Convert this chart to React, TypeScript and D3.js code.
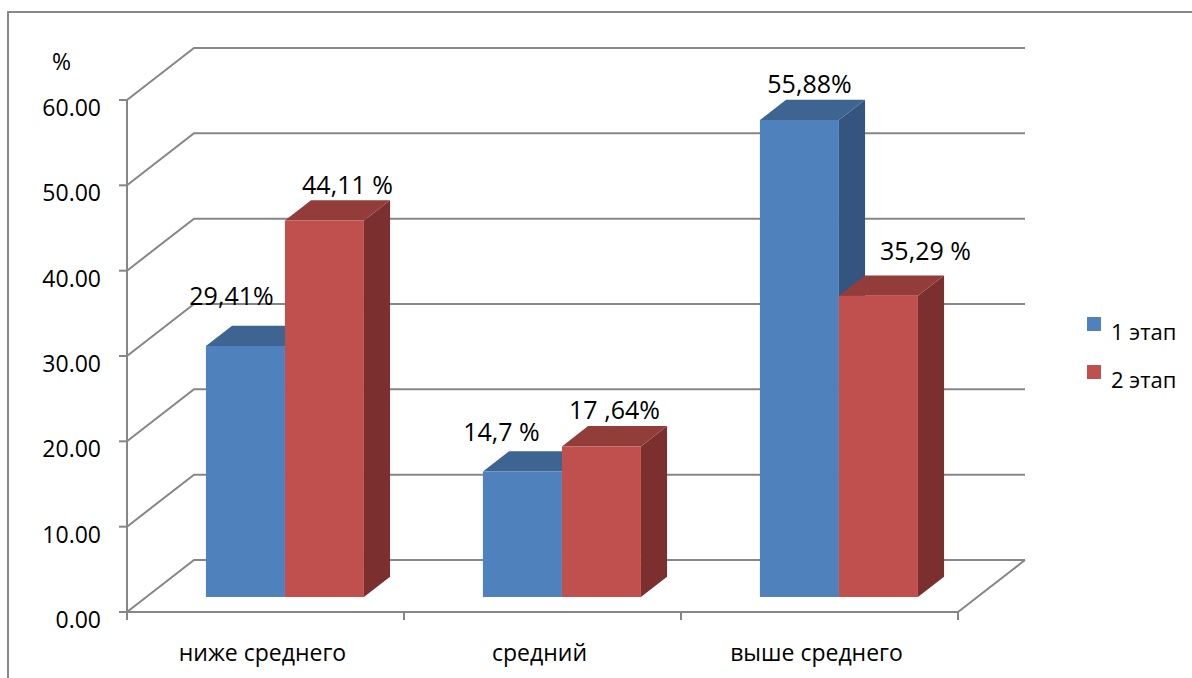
import React from "react";
import * as d3 from "d3";

const categories = ["ниже среднего", "средний", "выше среднего"];
const seriesNames = ["1 этап", "2 этап"];
const stage1 = [29.41, 14.7, 55.88];
const stage2 = [44.11, 17.64, 35.29];
const stage1Labels = ["29,41%", "14,7 %", "55,88%"];
const stage2Labels = ["44,11 %", "17 ,64%", "35,29 %"];
const yTicks = [0, 10, 20, 30, 40, 50, 60];

// layout constants (not data)
const W = 1192, H = 678;
const FRONT_L = 127, FRONT_R = 958, Y_BOT = 612, Y_TOP = 100;
const DDX = 67, DDY = -52;
const BAR_D0 = 0.29, BAR_D1 = 0.68;
const GROUP_W = 158;
const FONT = "'Open Sans', sans-serif";
const GRID = "#868686";
// per-label manual nudges, mirroring hand-placed labels in the original
const NUDGE1 = [[-27, -11], [-34, 0], [-3, 3]];
const NUDGE2 = [[10, 4], [0, 3], [34, -5]];

const COLORS = [
  { front: "#4F81BD", top: "#3E6592", side: "#34557F" },
  { front: "#C0504D", top: "#933D3B", side: "#7B302F" },
];

export default function App() {
  const x = d3.scaleBand<string>().domain(categories).range([FRONT_L, FRONT_R]).padding(0);
  const xi = d3.scaleBand<string>().domain(seriesNames).range([0, GROUP_W]).padding(0);
  const y = d3.scaleLinear().domain([0, 60]).range([Y_BOT, Y_TOP]);
  const bw = xi.bandwidth();
  const P = (px: number, py: number, d: number) => [px + DDX * d, py + DDY * d];
  const pts = (arr: number[][]) => arr.map((p) => p.join(",")).join(" ");

  const values = [stage1, stage2];
  const labels = [stage1Labels, stage2Labels];
  const nudges = [NUDGE1, NUDGE2];

  const bars: React.ReactNode[] = [];
  const texts: React.ReactNode[] = [];
  categories.forEach((c, ci) => {
    const cx = (x(c) as number) + x.bandwidth() / 2;
    seriesNames.forEach((s, si) => {
      const v = values[si][ci];
      const x0 = cx - GROUP_W / 2 + (xi(s) as number);
      const x1 = x0 + bw;
      const col = COLORS[si];
      const fbl = P(x0, y(0), BAR_D0), fbr = P(x1, y(0), BAR_D0);
      const ftl = P(x0, y(v), BAR_D0), ftr = P(x1, y(v), BAR_D0);
      const btl = P(x0, y(v), BAR_D1), btr = P(x1, y(v), BAR_D1), bbr = P(x1, y(0), BAR_D1);
      bars.push(
        <g key={c + s}>
          <polygon points={pts([fbr, ftr, btr, bbr])} fill={col.side} />
          <polygon points={pts([ftl, ftr, btr, btl])} fill={col.top} />
          <polygon points={pts([fbl, ftl, ftr, fbr])} fill={col.front} />
        </g>
      );
      const [nx, ny] = nudges[si][ci];
      const tx = (ftl[0] + btr[0]) / 2 + nx;
      const ty = btl[1] - 10 + ny;
      texts.push(
        <text key={"t" + c + s} x={tx} y={ty} textAnchor="middle" fontSize={25} fontFamily={FONT} fill="#000">
          {labels[si][ci]}
        </text>
      );
    });
  });

  return (
    <svg width={W} height={H} style={{ position: "absolute", left: 0, top: 0, background: "#fff" }}>
      <rect x={0} y={0} width={W} height={H} fill="#fff" />
      <path d={`M8,${H + 5} L8,12 L${W + 5},12`} fill="none" stroke="#888" strokeWidth={2} />
      {yTicks.map((t) => {
        const a = [FRONT_L, y(t)];
        const b = P(FRONT_L, y(t), 1);
        const e = P(FRONT_R, y(t), 1);
        return (
          <polyline key={"g" + t} points={pts([a, b, e])} fill="none" stroke={GRID} strokeWidth={2} />
        );
      })}
      <polyline
        points={pts([[FRONT_L, Y_BOT], [FRONT_R, Y_BOT], P(FRONT_R, Y_BOT, 1)])}
        fill="none"
        stroke={GRID}
        strokeWidth={2}
      />
      <line x1={FRONT_L} x2={FRONT_L} y1={y(60)} y2={Y_BOT} stroke={GRID} strokeWidth={2} />
      {yTicks.map((t) => (
        <g key={"yt" + t}>
          <line x1={FRONT_L - 8} x2={FRONT_L} y1={y(t)} y2={y(t)} stroke={GRID} strokeWidth={2} />
          <text x={101} y={y(t) + 16} textAnchor="end" fontSize={23} fontFamily={FONT} fill="#000">
            {t.toFixed(2)}
          </text>
        </g>
      ))}
      <text x={52} y={70} fontSize={23} fontFamily={FONT} fill="#000">%</text>
      {[...categories.map((c) => x(c) as number), FRONT_R].map((px, i) => (
        <line key={"xt" + i} x1={px} x2={px} y1={Y_BOT} y2={Y_BOT + 8} stroke={GRID} strokeWidth={2} />
      ))}
      {categories.map((c) => (
        <text key={"xl" + c} x={(x(c) as number) + x.bandwidth() / 2 - 3} y={661} textAnchor="middle" fontSize={23} fontFamily={FONT} fill="#000">
          {c}
        </text>
      ))}
      {bars}
      {texts}
      {seriesNames.map((s, i) => (
        <g key={"lg" + s} transform={`translate(0, ${i * 48})`}>
          <rect x={1087} y={317} width={14} height={14} fill={COLORS[i].front} />
          <text x={1111} y={340} fontSize={22} fontFamily={FONT} fill="#000">{s}</text>
        </g>
      ))}
    </svg>
  );
}
